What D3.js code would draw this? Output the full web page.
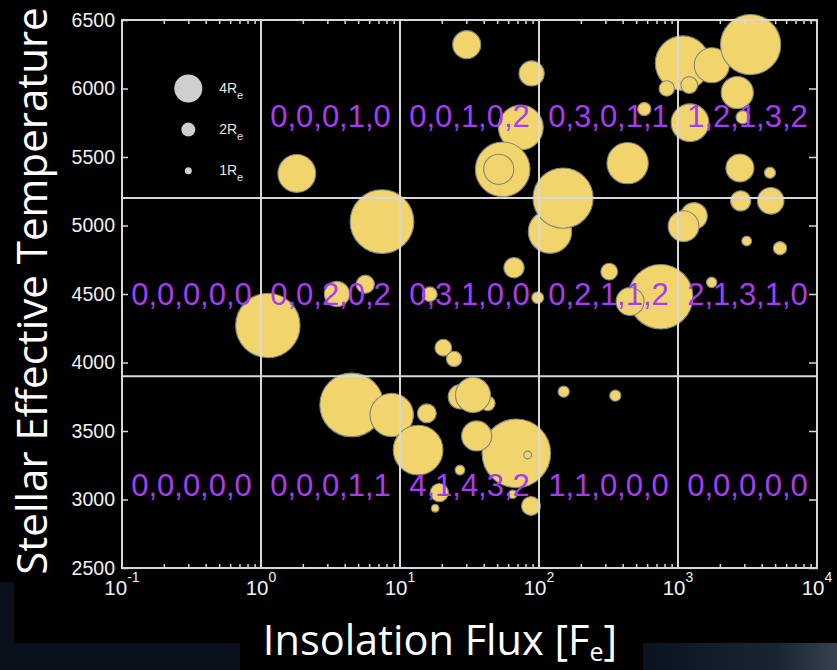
<!DOCTYPE html>
<html>
<head>
<meta charset="utf-8">
<script src="https://cdn.jsdelivr.net/npm/d3@7"></script>
<style>
  html, body { margin: 0; padding: 0; background: #000; }
  svg { display: block; }
</style>
</head>
<body>
<svg id="chart" width="837" height="670"></svg>
<script>
// Planets: insolation flux [F_e], host star Teff [K], planet radius [R_e]
const flux = [1.81, 30.2, 88.5, 74, 54.8, 51.3, 1080, 1750, 3330, 830,
  1205, 2670, 572, 1220, 2920, 434, 2790, 4590, 2825, 4645,
  120, 173, 149, 1303, 1096, 3120, 5420, 1747, 751, 452,
  320, 97.9, 66.1, 16.4, 20.5, 24.5, 7.42, 1.12, 3.52, 5.63,
  4.49, 8.72, 13.5, 15.6, 27.2, 42.8, 33.5, 68.7, 82.9, 35.6,
  27, 19.2, 17.9, 87.6, 64.7, 150.6, 354];
const teff = [5380, 6320, 6110, 5715, 5410, 5410, 6185, 6170, 6320, 6000,
  6025, 5970, 5850, 5750, 5790, 5455, 5420, 5385, 5180, 5180,
  4955, 5085, 5200, 5070, 4995, 4887, 4834, 4585, 4480, 4445,
  4663, 4473, 4692, 4498, 4108, 4026, 5028, 4270, 4500, 4571,
  3690, 3617, 3361, 3629, 3750, 3702, 3763, 3337, 3325, 3464,
  3215, 3050, 2936, 2953, 3038, 3787, 3758];
const radius = [5.4, 4.0, 3.6, 6.4, 7.8, 4.3, 7.8, 5.0, 8.6, 2.2,
  2.4, 4.6, 1.9, 5.4, 1.9, 5.9, 4.0, 1.6, 2.9, 3.8,
  6.2, 3.4, 8.6, 3.8, 4.4, 1.4, 1.9, 1.5, 9.2, 4.0,
  2.4, 1.7, 2.9, 2.1, 2.4, 2.2, 9.1, 9.2, 3.6, 2.6,
  9.1, 6.2, 7.1, 2.7, 3.5, 2.1, 5.0, 9.8, 1.1, 4.3,
  1.4, 2.6, 1.1, 2.7, 1.2, 1.6, 1.6];

// Bin boundaries
const fluxBounds = [1, 10, 100, 1000];
const teffBounds = [5200, 3900];

// Counts per bin (rows: hot, mid, cool; columns: flux decades)
const binCounts = [
  [null, [0,0,0,1,0], [0,0,1,0,2], [0,3,0,1,1], [1,2,1,3,2]],
  [[0,0,0,0,0], [0,0,2,0,2], [0,3,1,0,0], [0,2,1,1,2], [2,1,3,1,0]],
  [[0,0,0,0,0], [0,0,0,1,1], [4,1,4,3,2], [1,1,0,0,0], [0,0,0,0,0]]
];

// Axis ticks
const xTickExp = [-1, 0, 1, 2, 3, 4];
const yTickValues = [2500, 3000, 3500, 4000, 4500, 5000, 5500, 6000, 6500];

// Size legend
const legendSizes = [4, 2, 1];
const legendTeff = [6000, 5700, 5400];

const svg = d3.select("#chart");
const W = 837, H = 670;
const pL = 122, pR = 817, pT = 20, pB = 568;

// backdrop
const defs = svg.append("defs");
const grad = defs.append("linearGradient").attr("id", "sky").attr("x1", 0).attr("x2", 1).attr("y1", 0).attr("y2", 0);
grad.append("stop").attr("offset", "0%").attr("stop-color", "#0b1321");
grad.append("stop").attr("offset", "70%").attr("stop-color", "#1a2533");
grad.append("stop").attr("offset", "100%").attr("stop-color", "#37424e");
svg.append("rect").attr("width", W).attr("height", H).attr("fill", "#000");
svg.append("rect").attr("x", 0).attr("y", 643).attr("width", 240).attr("height", 27).attr("fill", "#0a111d");
svg.append("rect").attr("x", 0).attr("y", 582).attr("width", 14).attr("height", 88).attr("fill", "#0a111d");
svg.append("rect").attr("x", 643).attr("y", 643).attr("width", 194).attr("height", 27).attr("fill", "url(#sky)");

const x = d3.scaleLog().domain([0.1, 1e4]).range([pL, pR]);
const y = d3.scaleLinear().domain([2500, 6500]).range([pB, pT]);
const r = d3.scaleLinear().domain([0, 1]).range([0, 3.5]);

// bubbles
const planets = flux.map((f, i) => ({ f, t: teff[i], rad: radius[i] }));
svg.append("g").selectAll("circle").data(planets).join("circle")
  .attr("cx", d => x(d.f)).attr("cy", d => y(d.t)).attr("r", d => r(d.rad))
  .attr("fill", "#f1d46b").attr("stroke", "#85857c").attr("stroke-width", 1.1);

// bin grid
const lineColor = "#d8d8d8";
svg.append("g").selectAll("line").data(fluxBounds).join("line")
  .attr("x1", d => x(d)).attr("x2", d => x(d)).attr("y1", pT).attr("y2", pB)
  .attr("stroke", lineColor).attr("stroke-width", 2);
svg.append("g").selectAll("line").data(teffBounds).join("line")
  .attr("x1", pL).attr("x2", pR).attr("y1", d => y(d)).attr("y2", d => y(d))
  .attr("stroke", lineColor).attr("stroke-width", 2);

// axes
const minor = [];
for (let e = -1; e < 4; e++) for (let k = 2; k <= 9; k++) minor.push(k * Math.pow(10, e));
function styleAxis(g) {
  g.select(".domain").remove();
  g.selectAll(".tick line").attr("stroke", lineColor).attr("stroke-width", 1.5);
}
svg.append("g").attr("transform", `translate(0,${pB})`)
  .call(d3.axisBottom(x).tickValues(minor).tickSize(-4).tickFormat(""))
  .call(styleAxis);
svg.append("g").attr("transform", `translate(0,${pT})`)
  .call(d3.axisTop(x).tickValues(minor).tickSize(-4).tickFormat(""))
  .call(styleAxis);
svg.append("g").attr("transform", `translate(${pL},0)`)
  .call(d3.axisLeft(y).tickValues(yTickValues).tickSize(-6).tickPadding(7).tickFormat(d3.format("d")))
  .call(styleAxis)
  .call(g => g.selectAll("text").attr("fill", "#f2f2f2")
    .style("font-family", "'Liberation Sans', Arial, sans-serif").style("font-size", "19.5px"));
svg.append("g").attr("transform", `translate(${pR},0)`)
  .call(d3.axisRight(y).tickValues(yTickValues).tickSize(-8).tickFormat(""))
  .call(styleAxis);

// decade labels 10^n
const xl = svg.append("g").style("font-family", "'Liberation Sans', Arial, sans-serif").attr("fill", "#f2f2f2");
xTickExp.forEach(e => {
  const t = xl.append("text").attr("x", x(Math.pow(10, e))).attr("y", 595).attr("text-anchor", "middle");
  t.append("tspan").style("font-size", "20.5px").text("10");
  t.append("tspan").style("font-size", "14px").attr("dy", -13).text(e);
});

// frame
svg.append("rect").attr("x", pL).attr("y", pT).attr("width", pR - pL).attr("height", pB - pT)
  .attr("fill", "none").attr("stroke", lineColor).attr("stroke-width", 2);

// size legend
const lg = svg.append("g");
lg.selectAll("circle").data(legendSizes).join("circle")
  .attr("cx", x(0.3)).attr("cy", (d, i) => y(legendTeff[i])).attr("r", d => r(d)).attr("fill", "#cfcfcf");
legendSizes.forEach((s, i) => {
  const t = lg.append("text").attr("x", x(0.5)).attr("y", y(legendTeff[i]) + 4.5)
    .attr("fill", "#e8e8e8").style("font-family", "'Liberation Sans', Arial, sans-serif");
  t.append("tspan").style("font-size", "14px").text(s + "R");
  t.append("tspan").style("font-size", "11px").attr("dy", 6).text("e");
});

// bin count labels
const colEdges = [0.1, 1, 10, 100, 1000, 10000];
const rowBaseline = [5721, 4420, 3026];
const labels = [];
binCounts.forEach((row, ri) => row.forEach((c, ci) => {
  if (c) labels.push({ text: c.join(","), cx: (x(colEdges[ci]) + x(colEdges[ci + 1])) / 2, by: y(rowBaseline[ri]) });
}));
svg.append("g").selectAll("text").data(labels).join("text")
  .attr("x", d => d.cx).attr("y", d => d.by).attr("text-anchor", "middle")
  .attr("fill", "#a63df0").style("font-family", "'Liberation Sans', Arial, sans-serif").style("font-size", "31px")
  .text(d => d.text);

// axis titles
const xt = svg.append("text").attr("x", 440).attr("y", 655).attr("text-anchor", "middle")
  .attr("fill", "#fff").style("font-family", "'Open Sans', sans-serif").style("font-size", "41.5px");
xt.append("tspan").text("Insolation Flux [F");
xt.append("tspan").style("font-size", "25px").attr("dy", 6).text("e");
xt.append("tspan").attr("dy", -6).text("]");

svg.append("text").attr("transform", "translate(47,291) rotate(-90)").attr("text-anchor", "middle")
  .attr("fill", "#fff").style("font-family", "'Open Sans', sans-serif").style("font-size", "42px")
  .text("Stellar Effective Temperature");
</script>
</body>
</html>
